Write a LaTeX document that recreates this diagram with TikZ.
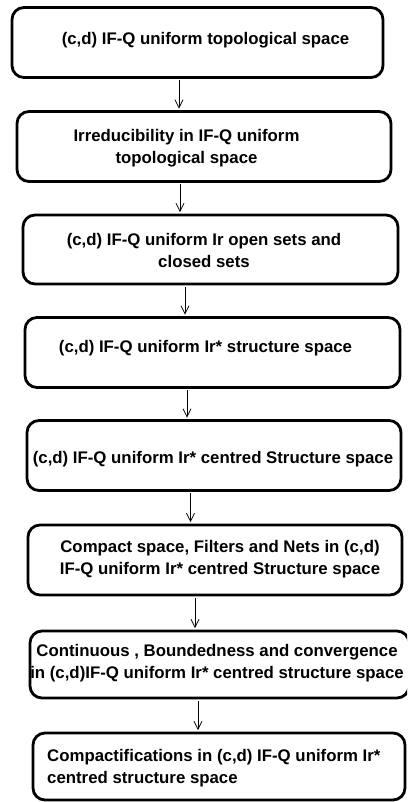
\documentclass[tikz,border=0pt]{standalone}
\usepackage{fontspec}
\setmainfont{Liberation Sans}
\usetikzlibrary{arrows.meta}
\tikzset{
    stage/.style = {
      draw,
      rounded corners = 12pt,
      line width = 2.8pt,
      inner sep = 0pt,
    },
    caption/.style = {
      font = \fontsize{16.8}{22}\selectfont\bfseries,
      align = center,
      inner sep = 0pt,
    },
    -->/.style = {
      line width = 0.8pt,
      -{Straight Barb[length=8pt, width=8pt]},
      shorten > = 1.5pt,
      shorten < = 1.5pt
    },
}
\begin{document}
\begin{tikzpicture}[x=1pt, y=-1pt]
        \useasboundingbox (0, 0) rectangle (407, 802);
        \clip (0, 0) rectangle (407, 802);

            \node[stage, minimum width=371pt, minimum height=70pt] (SPACE) at (197.5, 42.5) {};
            \node[stage, minimum width=374pt, minimum height=70pt] (IRRED) at (204, 146.5) {};
            \node[stage, minimum width=375pt, minimum height=69pt] (OPEN) at (210.5, 249.5) {};
            \node[stage, minimum width=375pt, minimum height=70pt] (STRUCT) at (212.5, 352.5) {};
            \node[stage, minimum width=374pt, minimum height=70pt] (CENTRED) at (214, 455.5) {};
            \node[stage, minimum width=374pt, minimum height=70pt] (COMPACT) at (215, 560) {};
            \node[stage, minimum width=379pt, minimum height=67pt] (CONT) at (219.5, 664.5) {};
            \node[stage, minimum width=372pt, minimum height=67pt] (COMPACTIF) at (219, 766.5) {};

            % texts of the boxes
            \node[caption] (SPACEtxt) at (205.5, 40.5) {(c,d) IF-Q uniform topological space};
            \node[caption] (IRREDtxt) at (186.5, 148) {Irreducibility in IF-Q uniform\\topological space};
            \node[caption] (OPENtxt) at (204, 250) {(c,d) IF-Q uniform Ir open sets and\\closed sets};
            \node[caption] (STRUCTtxt) at (205.5, 348) {(c,d) IF-Q uniform Ir* structure space};
            \node[caption] (CENTREDtxt) at (213, 459) {(c,d) IF-Q uniform Ir* centred Structure space};
            \node[caption] (COMPACTtxt) at (220, 559) {Compact space, Filters and Nets in (c,d)\\IF-Q uniform Ir* centred Structure space};
            \node[caption] (CONTtxt) at (217, 663) {Continuous , Boundedness and convergence\\in (c,d)IF-Q uniform Ir* centred structure space};
            \node[caption, align=left, anchor=west] (COMPACTIFtxt) at (47, 768) {Compactifications in (c,d) IF-Q uniform Ir*\\centred structure space};

            \draw[-->] ([xshift=-18.5pt]SPACE.south) -- ([xshift=-25pt]IRRED.north);
            \draw[-->] ([xshift=-24pt]IRRED.south) -- ([xshift=-30.5pt]OPEN.north);
            \draw[-->] ([xshift=-25.5pt]OPEN.south) -- ([xshift=-27.5pt]STRUCT.north);
            \draw[-->] ([xshift=-25.5pt]STRUCT.south) -- ([xshift=-27pt]CENTRED.north);
            \draw[-->] ([xshift=-23.5pt]CENTRED.south) -- ([xshift=-24.5pt]COMPACT.north);
            \draw[-->] ([xshift=-20pt]COMPACT.south) -- ([xshift=-24.5pt]CONT.north);
            \draw[-->] ([xshift=-21.5pt]CONT.south) -- ([xshift=-21pt]COMPACTIF.north);
\end{tikzpicture}
\end{document}
